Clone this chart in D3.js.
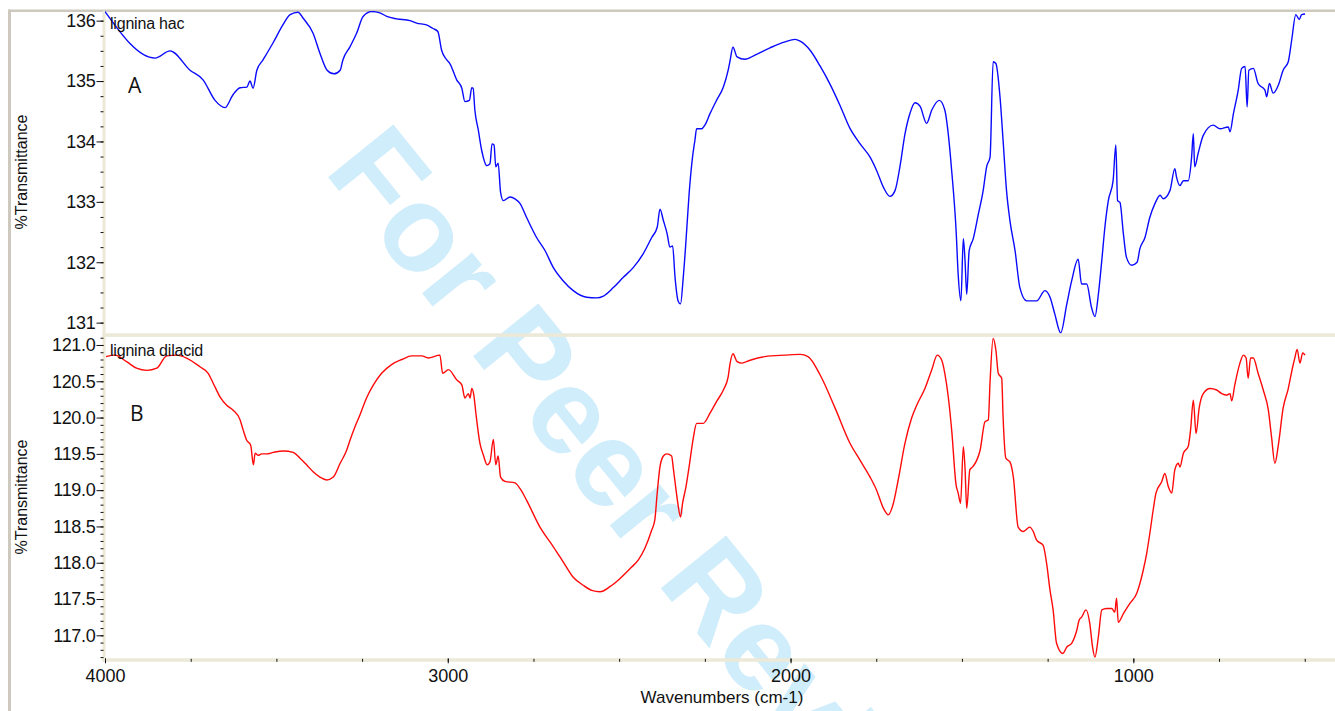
<!DOCTYPE html>
<html>
<head>
<meta charset="utf-8">
<script src="https://cdn.jsdelivr.net/npm/d3@7/dist/d3.min.js"></script>
<style>
  html, body { margin: 0; padding: 0; background: #fff; }
  svg { display: block; }
  text { font-family: "Liberation Sans", Arial, sans-serif; }
</style>
</head>
<body>
<svg id="chart" width="1335" height="711"></svg>
<script>
// ---- Spectrum A: lignina hac (wavenumber, %T) ----
const wnA = [4000,3854,3810,3752,3714,3679,3650,3627,3606,3586,3577,3568,3557,3539,3510,3481,3460,3437,3422,3393,
  3373,3352,3332,3314,3306,3285,3266,3247,3222,3198,3178,3149,3110,3091,3062,3043,3029,3018,3003,2994,
  2974,2959,2950,2937,2930,2926,2921,2911,2901,2886,2877,2871,2865,2860,2853,2846,2838,2818,2804,2789,
  2770,2741,2716,2692,2663,2634,2595,2566,2546,2517,2488,2459,2430,2405,2389,2381,2371,2360,2352,2344,
  2337,2328,2321,2313,2305,2296,2286,2279,2274,2259,2250,2235,2216,2196,2182,2177,2168,2156,2133,2104,
  2060,2016,1987,1972,1943,1914,1885,1856,1827,1797,1768,1749,1729,1710,1695,1681,1666,1652,1637,1622,
  1603,1588,1566,1550,1540,1530,1517,1511,1503,1496,1491,1486,1479,1467,1452,1438,1428,1418,1409,1401,
  1389,1380,1370,1360,1345,1331,1311,1282,1258,1243,1229,1212,1194,1180,1161,1151,1136,1122,1112,1102,
  1092,1083,1073,1059,1051,1046,1039,1029,1020,1005,989,981,966,952,937,922,913,893,879,874,
  864,854,840,830,825,821,811,796,767,747,723,718,708,694,684,674,668,663,650,636,
  616,611,603,592,577,563,548,538,526,516,509,499];
const tA = [136.15,135.38,135.50,135.18,135.02,134.68,134.56,134.77,134.89,134.90,135.00,134.88,135.18,135.35,135.63,135.93,136.10,136.14,136.04,135.79,
  135.46,135.18,135.12,135.18,135.35,135.57,135.79,136.07,136.15,136.13,136.07,136.03,136.00,135.96,135.93,135.87,135.82,135.51,135.35,135.29,
  135.02,134.88,134.66,134.68,134.89,134.88,134.52,134.19,133.85,133.60,133.63,133.96,133.94,133.58,133.64,133.16,133.02,133.08,133.05,132.97,
  132.74,132.41,132.19,131.91,131.69,131.53,131.42,131.41,131.44,131.58,131.75,131.91,132.14,132.41,132.58,132.88,132.69,132.47,132.25,132.27,
  131.75,131.36,131.31,131.75,132.36,133.13,133.74,134.02,134.21,134.21,134.27,134.46,134.68,134.90,135.18,135.32,135.56,135.40,135.36,135.43,
  135.55,135.65,135.69,135.66,135.51,135.25,134.95,134.60,134.22,133.96,133.74,133.52,133.24,133.09,133.19,133.58,134.13,134.46,134.64,134.58,
  134.30,134.52,134.68,134.52,134.13,133.52,132.52,131.80,131.36,132.39,132.03,131.47,132.19,132.39,132.80,133.19,133.58,133.74,135.32,135.29,
  134.74,134.02,133.19,132.69,132.19,131.58,131.36,131.36,131.53,131.42,131.14,130.83,131.31,131.69,132.05,131.64,131.64,131.25,131.10,131.47,
  132.03,132.58,133.02,133.35,133.94,133.02,132.99,132.47,132.08,131.95,132.00,132.22,132.41,132.74,132.97,133.11,133.05,133.19,133.55,133.41,
  133.27,133.35,133.35,133.74,134.13,133.58,133.80,134.10,134.27,134.21,134.24,134.16,134.46,134.85,135.21,135.24,134.57,135.18,135.21,134.96,
  134.85,134.74,134.96,134.80,134.93,135.18,135.32,135.68,136.10,136.02,136.10,136.11];

// ---- Spectrum B: lignina dilacid (wavenumber, %T) ----
const wnB = [3997,3971,3937,3908,3878,3849,3820,3791,3762,3723,3699,3684,3665,3645,3626,3606,3597,3587,3575,3567,
  3562,3553,3543,3528,3509,3480,3451,3431,3412,3392,3373,3353,3334,3314,3295,3285,3271,3256,3237,3217,
  3193,3164,3134,3105,3076,3057,3023,3015,2998,2974,2959,2950,2940,2935,2930,2924,2918,2906,2896,2885,
  2877,2867,2860,2853,2846,2833,2804,2789,2770,2731,2692,2663,2634,2605,2580,2556,2527,2498,2468,2444,
  2425,2405,2396,2389,2381,2371,2361,2347,2342,2334,2328,2321,2315,2305,2296,2284,2274,2255,2235,2216,
  2196,2182,2177,2168,2156,2142,2118,2075,2016,1972,1949,1914,1870,1827,1797,1768,1749,1729,1715,1700,
  1686,1666,1647,1632,1608,1588,1572,1559,1550,1540,1530,1517,1511,1504,1496,1491,1486,1477,1469,1457,
  1447,1433,1423,1418,1409,1401,1394,1384,1380,1372,1360,1350,1336,1321,1302,1292,1282,1263,1253,1243,
  1234,1224,1206,1194,1180,1165,1158,1151,1138,1127,1119,1112,1102,1092,1078,1063,1054,1049,1044,1029,
  1010,990,981,971,961,952,942,934,917,908,898,888,879,869,864,854,840,833,825,817,
  808,796,776,757,742,728,718,713,704,689,679,671,665,658,650,636,621,606,597,587,
  577,563,548,535,529,522,514,506,499];
const tB = [120.84,120.86,120.77,120.68,120.65,120.68,120.85,120.86,120.82,120.70,120.61,120.47,120.29,120.17,120.10,119.97,119.83,119.69,119.62,119.35,
  119.51,119.48,119.50,119.50,119.52,119.54,119.52,119.44,119.35,119.25,119.18,119.14,119.18,119.37,119.55,119.69,119.87,120.04,120.27,120.45,
  120.61,120.73,120.80,120.85,120.85,120.82,120.86,120.61,120.66,120.52,120.45,120.27,120.33,120.27,120.40,120.31,120.06,119.64,119.48,119.35,
  119.39,119.70,119.35,119.47,119.18,119.12,119.10,119.02,118.86,118.49,118.22,118.01,117.80,117.69,117.62,117.60,117.67,117.78,117.92,118.04,
  118.20,118.45,118.59,118.96,119.32,119.47,119.50,119.47,119.30,119.00,118.79,118.63,118.82,119.05,119.32,119.71,119.92,119.92,120.06,120.22,
  120.38,120.56,120.73,120.88,120.77,120.75,120.79,120.84,120.86,120.87,120.84,120.59,120.13,119.65,119.41,119.18,119.00,118.75,118.66,118.82,
  119.14,119.65,119.99,120.17,120.40,120.66,120.86,120.79,120.61,120.29,119.83,119.07,118.96,118.82,119.60,119.30,118.75,119.28,119.32,119.41,
  119.55,119.94,119.97,120.49,121.09,120.93,120.61,120.54,120.01,119.44,119.39,119.18,118.49,118.43,118.49,118.43,118.31,118.24,117.99,117.62,
  117.35,116.89,116.75,116.84,116.89,117.07,117.21,117.25,117.35,117.16,116.84,116.70,116.98,117.35,117.37,117.37,117.32,117.51,117.18,117.30,
  117.44,117.58,117.71,117.90,118.13,118.40,118.73,118.96,119.12,119.23,119.05,118.96,119.28,119.37,119.32,119.51,119.60,119.83,120.24,119.78,
  120.13,120.33,120.40,120.38,120.33,120.31,120.33,120.23,120.45,120.75,120.86,120.82,120.54,120.82,120.82,120.61,120.38,120.10,119.74,119.37,
  119.62,120.13,120.40,120.70,120.82,120.94,120.75,120.89,120.86];

// ---- Axis ticks and labels ----
const xMajorTicks = [4000, 3000, 2000, 1000];
const xMinorTicks = d3.range(3750, 399, -250);
const yMajorA = [131, 132, 133, 134, 135, 136];
const yMajorB = [117.0, 117.5, 118.0, 118.5, 119.0, 119.5, 120.0, 120.5, 121.0];
const seriesNames = ["lignina hac", "lignina dilacid"];
const panelLetters = ["A", "B"];

const svg = d3.select("#chart");
const W = 1335, H = 711;
const plotL = 105, plotR = 1339;
const topA = 11, botA = 333.5, topB = 337, botB = 660;

const x = d3.scaleLinear().domain([4000, 400]).range([plotL, plotR]);
const yA = d3.scaleLinear().domain([130.82, 136.16]).range([botA, topA]);
const yB = d3.scaleLinear().domain([116.66, 121.11]).range([botB, topB]);

svg.append("rect").attr("width", W).attr("height", H).attr("fill", "#fff");

// watermark
svg.append("text")
  .attr("transform", "translate(323,171) rotate(51)")
  .attr("font-size", 122).attr("font-weight", "bold")
  .attr("fill", "#d0edfb")
  .style("font-family", "'Liberation Sans', Arial, sans-serif")
  .text("For Peer Review");

// outer window frame
const beige = "#ece9d8";
svg.append("rect").attr("x", 8).attr("y", 9.5).attr("width", W - 8).attr("height", 2.5).attr("fill", "#cdc9bf");
svg.append("rect").attr("x", 8).attr("y", 9.5).attr("width", 3).attr("height", H).attr("fill", "#cdc9bf");

// plot clips
const defs = svg.append("defs");
defs.append("clipPath").attr("id", "clipA").append("rect")
  .attr("x", plotL).attr("y", topA).attr("width", W - plotL).attr("height", botA - topA);
defs.append("clipPath").attr("id", "clipB").append("rect")
  .attr("x", plotL).attr("y", topB - 1).attr("width", W - plotL).attr("height", botB - topB + 1);

// panel borders (beige bands)
svg.append("rect").attr("x", 102.5).attr("y", 11).attr("width", 3).attr("height", botB - 11 + 2).attr("fill", beige);
svg.append("rect").attr("x", 102.5).attr("y", 333.3).attr("width", W - 102).attr("height", 3.6).attr("fill", beige);
svg.append("rect").attr("x", 102.5).attr("y", 658.3).attr("width", W - 102).attr("height", 3.4).attr("fill", beige);

// curves
const lineA = d3.line().curve(d3.curveMonotoneX).x((d, i) => x(wnA[i])).y((d, i) => yA(tA[i]));
const lineB = d3.line().curve(d3.curveMonotoneX).x((d, i) => x(wnB[i])).y((d, i) => yB(tB[i]));
svg.append("path").datum(tA).attr("clip-path", "url(#clipA)")
  .attr("d", lineA).attr("fill", "none").attr("stroke", "#0a0aff").attr("stroke-width", 1.4)
  .attr("stroke-linejoin", "round");
svg.append("path").datum(tB).attr("clip-path", "url(#clipB)")
  .attr("d", lineB).attr("fill", "none").attr("stroke", "#ff0a0a").attr("stroke-width", 1.4)
  .attr("stroke-linejoin", "round");

// y axes
function yAxis(scale, majors, minors, fmt) {
  const gMinor = svg.append("g").attr("transform", `translate(${103.5},0)`)
    .call(d3.axisLeft(scale).tickValues(minors).tickSize(3).tickFormat(""));
  gMinor.select(".domain").remove();
  const gMajor = svg.append("g").attr("transform", `translate(${103.5},0)`)
    .call(d3.axisLeft(scale).tickValues(majors).tickSize(7).tickPadding(1).tickFormat(fmt));
  gMajor.select(".domain").remove();
  [gMinor, gMajor].forEach(g => g.selectAll("line").attr("stroke", "#111"));
  gMajor.selectAll("text").attr("font-size", 18).attr("fill", "#111")
    .style("letter-spacing", "-0.3px");
}
yAxis(yA, yMajorA, d3.range(130.75, 136.2, 0.25).filter(v => v > 130.82 && v < 136.16), d3.format("d"));
yAxis(yB, yMajorB, d3.range(116.7, 121.11, 0.1), d3.format(".1f"));

// x axis
const gxMinor = svg.append("g").attr("transform", `translate(0,658.8)`)
  .call(d3.axisBottom(x).tickValues(xMinorTicks).tickSize(3).tickFormat(""));
gxMinor.select(".domain").remove();
const gxMajor = svg.append("g").attr("transform", `translate(0,658.3)`)
  .call(d3.axisBottom(x).tickValues(xMajorTicks).tickSize(5).tickPadding(6).tickFormat(d3.format("d")));
gxMajor.select(".domain").remove();
[gxMinor, gxMajor].forEach(g => g.selectAll("line").attr("stroke", "#111"));
gxMajor.selectAll("text").attr("font-size", 18).attr("fill", "#111");

// axis titles
svg.append("text").attr("x", 722).attr("y", 703).attr("text-anchor", "middle")
  .attr("font-size", 17).attr("fill", "#111").text("Wavenumbers (cm-1)");
[[172], [497]].forEach(([cy]) => {
  svg.append("text").attr("transform", `translate(27,${cy}) rotate(-90)`)
    .attr("text-anchor", "middle").attr("font-size", 16).attr("fill", "#111").text("%Transmittance");
});

// series names and panel letters
svg.append("text").attr("x", 110).attr("y", 29).attr("font-size", 16).attr("fill", "#111")
  .style("letter-spacing", "-0.2px").text(seriesNames[0]);
svg.append("text").attr("x", 110).attr("y", 356).attr("font-size", 16).attr("fill", "#111")
  .style("letter-spacing", "-0.2px").text(seriesNames[1]);
svg.append("text").attr("x", 128).attr("y", 93).attr("font-size", 21).attr("fill", "#111")
  .style("font-family", "'Open Sans', sans-serif").text(panelLetters[0]);
svg.append("text").attr("x", 130).attr("y", 421).attr("font-size", 21).attr("fill", "#111")
  .style("font-family", "'Open Sans', sans-serif").text(panelLetters[1]);
</script>
</body>
</html>
